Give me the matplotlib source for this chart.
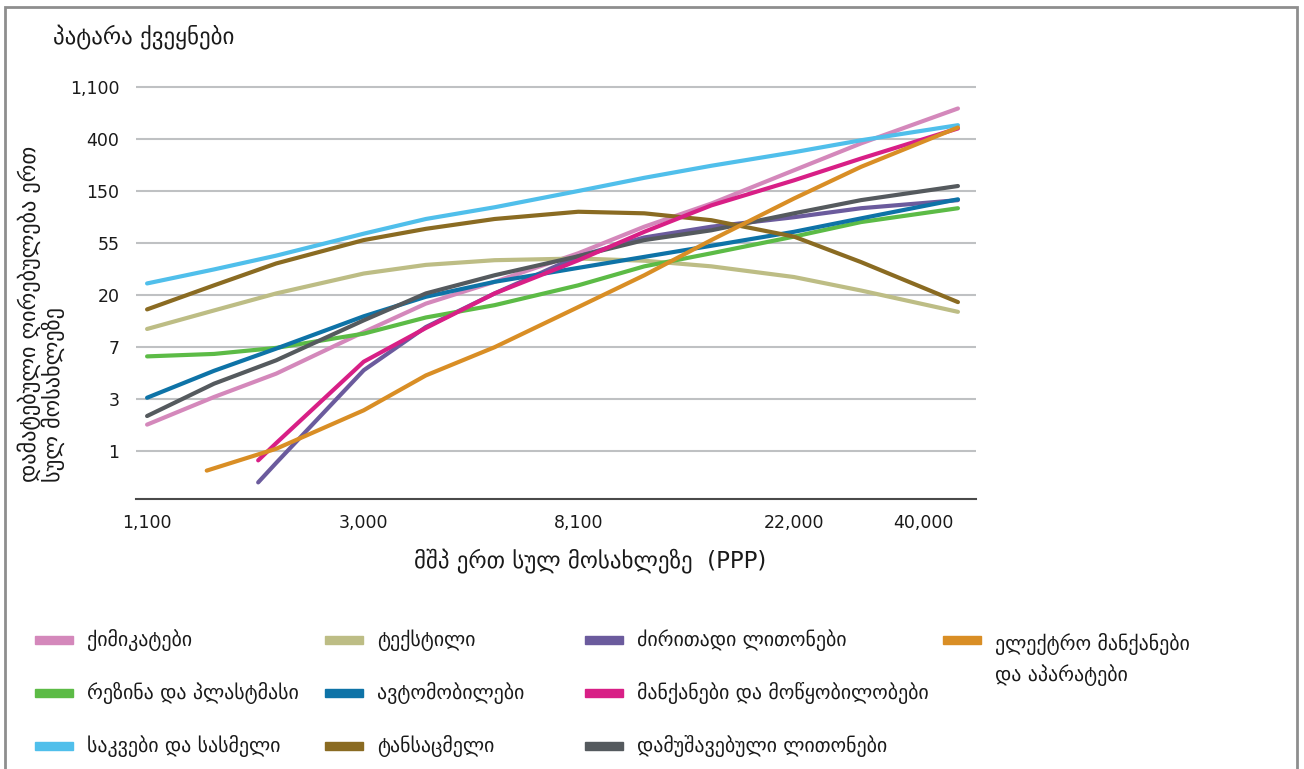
import numpy as np
import matplotlib
matplotlib.use("Agg")
import matplotlib.pyplot as plt
from matplotlib.patches import Rectangle

W, H = 1304, 769

# GDP per capita (PPP) sample points
gdp = [1100, 1500, 2000, 3000, 4000, 5500, 8100, 11000, 15000, 22000, 30000, 47000]
gdp_late = [1840, 2000, 3000, 4000, 5500, 8100, 11000, 15000, 22000, 30000, 47000]
gdp_elec = [1450, 2000, 3000, 4000, 5500, 8100, 11000, 15000, 22000, 30000, 47000]

# value added per capita
chemicals = [1.67, 2.84, 4.45, 9.9, 17.1, 26, 45, 75, 117, 222, 372, 728]
textiles = [10.5, 15, 20.8, 30.5, 36, 39.4, 40.7, 39, 35, 28.5, 22, 14.6]
base_metals = [0.55, 0.8, 4.75, 10.9, 20.8, 42.5, 61, 75, 90, 107, 125]
electrical = [0.69, 1.05, 2.2, 4.3, 7.4, 16, 29.5, 58, 129, 237, 505]
rubber = [6.2, 6.5, 7.3, 9.6, 13.1, 16.6, 24.3, 35, 45, 62, 82, 107]
autos = [2.8, 4.7, 7.2, 13.4, 19.5, 26, 34, 42, 52, 68, 88, 127]
machinery = [0.84, 1.17, 5.6, 10.7, 20.8, 39.3, 68, 113, 183, 278, 496]
food = [25.2, 33, 43, 65.6, 87, 109, 149, 192, 242, 314, 395, 528]
clothing = [15.3, 24.3, 37, 58, 72, 87, 100, 97, 85, 62, 38, 17.6]
metal_products = [1.97, 3.67, 5.75, 12.4, 20.8, 29.5, 42.5, 58, 70, 97, 125, 164]

x_ticks = [1100, 3000, 8100, 22000, 40000]
x_labels = ["1,100", "3,000", "8,100", "22,000", "40,000"]
y_ticks = list(np.exp(np.arange(8)))
y_labels = ["1", "3", "7", "20", "55", "150", "400", "1,100"]

# (label, x, y, colour) in legend order
series = [
    ("ქიმიკატები", gdp, chemicals, "#d488bb"),
    ("ტექსტილი", gdp, textiles, "#bdbd85"),
    ("ძირითადი ლითონები", gdp_late, base_metals, "#6b5b9d"),
    ("ელექტრო მანქანები\nდა აპარატები", gdp_elec, electrical, "#d98e25"),
    ("რეზინა და პლასტმასი", gdp, rubber, "#5cbb46"),
    ("ავტომობილები", gdp, autos, "#0e73a7"),
    ("მანქანები და მოწყობილობები", gdp_late, machinery, "#d81f86"),
    ("საკვები და სასმელი", gdp, food, "#50bfeb"),
    ("ტანსაცმელი", gdp, clothing, "#8a6b22"),
    ("დამუშავებული ლითონები", gdp, metal_products, "#555a5e"),
]
draw_order = [0, 1, 2, 4, 5, 9, 8, 7, 6, 3]


def fx(px):
    return px / W


def fy(py):
    return 1 - py / H


plt.rcParams["font.family"] = ["DejaVu Sans"]
fig = plt.figure(figsize=(W / 100, H / 100), dpi=100, facecolor="white")
ax = fig.add_axes([fx(136), fy(499), fx(976) - fx(136), fy(70) - fy(499)])

for i in draw_order:
    label, xs, ys, col = series[i]
    ax.plot(xs, ys, color=col, lw=3.0, solid_capstyle="round",
            solid_joinstyle="round", zorder=3)

ax.set_xscale("log")
ax.set_yscale("log")
ax.set_xlim(1045, 51100)
ax.set_ylim(np.exp(-0.917), np.exp(7.33))
ax.minorticks_off()
ax.set_xticks(x_ticks)
ax.set_xticklabels(x_labels)
ax.set_yticks(y_ticks)
ax.set_yticklabels(y_labels)
ax.tick_params(axis="both", length=0, labelsize=12.5, colors="#1a1a1a")
ax.tick_params(axis="x", pad=11)
ax.tick_params(axis="y", pad=12)
ax.grid(axis="y", color="#bfc1c3", lw=1.5, zorder=1)
for s in ["top", "left", "right"]:
    ax.spines[s].set_visible(False)
ax.spines["bottom"].set_color("#4a4a4a")
ax.spines["bottom"].set_linewidth(1.5)
ax.spines["bottom"].set_zorder(2)

fig.text(fx(53), fy(37), "პატარა ქვეყნები", fontsize=16.5, ha="left", va="center",
         color="#1a1a1a")
fig.text(fx(590), fy(562), "მშპ ერთ სულ მოსახლეზე  (PPP)", fontsize=16.5,
         ha="center", va="center", color="#1a1a1a")
fig.text(fx(17), fy(482), "დამატებული ღირებულება ერთ\nსულ მოსახლეზე", fontsize=16,
         rotation=90, ha="left", va="bottom", multialignment="left",
         linespacing=1.05, color="#1a1a1a")

# legend laid out as in the reference (4 columns)
col_x = [35, 325, 585, 943]
row_y = [640, 693, 746]
slots = [(0, 0), (0, 1), (0, 2), (0, 3), (1, 0), (1, 1), (1, 2), (2, 0), (2, 1), (2, 2)]
for (label, xs, ys, col), (r, c) in zip(series, slots):
    x0, y0 = col_x[c], row_y[r]
    fig.patches.append(Rectangle((fx(x0), fy(y0 + 4)), fx(38), 8 / H,
                                 transform=fig.transFigure, color=col))
    if "\n" in label:
        fig.text(fx(x0 + 52), fy(y0 - 7), label, fontsize=14.3, ha="left", va="top",
                 linespacing=1.55, color="#1a1a1a")
    else:
        fig.text(fx(x0 + 52), fy(y0), label, fontsize=14.3, ha="left", va="center",
                 color="#1a1a1a")

# outer frame
fig.patches.append(Rectangle((fx(5), -0.02), fx(1292), fy(7) + 0.02, transform=fig.transFigure,
                             fill=False, edgecolor="#8e8e8e", lw=2))

fig.savefig("out.png", dpi=100, facecolor="white")
